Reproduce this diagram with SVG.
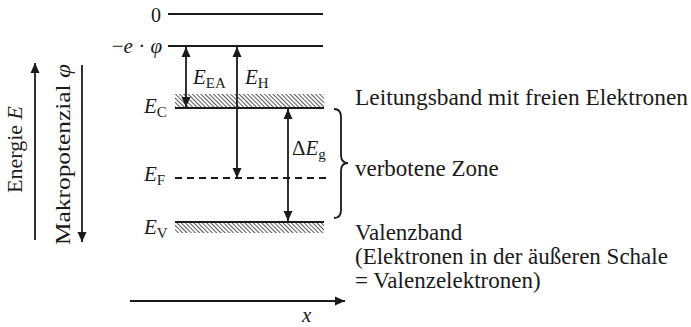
<svg xmlns="http://www.w3.org/2000/svg" width="691" height="327" viewBox="0 0 691 327">
<style>
text{font-family:"Liberation Serif","Times New Roman",serif;fill:#1a1a1a}
.lbl{font-size:23px}
.m{font-size:21px;font-style:italic}
.sub{font-size:15px;font-style:normal}
.ln{stroke:#1a1a1a;stroke-width:2;fill:none}
.ar{stroke:#1a1a1a;stroke-width:1.8;fill:none}
</style>
<defs>
<pattern id="hatch" width="3" height="3" patternUnits="userSpaceOnUse" patternTransform="rotate(-45)">
<rect width="3" height="3" fill="#fff"/>
<line x1="0" y1="0" x2="0" y2="3" stroke="#222" stroke-width="1.5"/>
</pattern>
<marker id="ah" viewBox="0 0 10 10" refX="10" refY="5" markerWidth="10" markerHeight="10" markerUnits="userSpaceOnUse" orient="auto-start-reverse">
<path d="M0,0.5 L10,5 L0,9.5 Z" fill="#1a1a1a"/>
</marker>
</defs>
<rect width="691" height="327" fill="#fff"/>

<g id="axes">
<line class="ar" x1="35" y1="240" x2="35" y2="63" marker-end="url(#ah)"/>
<line class="ar" x1="82" y1="65" x2="82" y2="242" marker-end="url(#ah)"/>
<line class="ar" x1="130" y1="301" x2="345" y2="301" marker-end="url(#ah)"/>
<text class="lbl" transform="translate(22,193) rotate(-90)" style="font-size:22px">Energie <tspan font-style="italic">E</tspan></text>
<text class="lbl" transform="translate(70,245) rotate(-90)" style="font-size:22px" textLength="181" lengthAdjust="spacingAndGlyphs">Makropotenzial <tspan font-style="italic">φ</tspan></text>
<text class="m" x="302" y="322">x</text>
</g>

<g id="level-0">
<line class="ln" x1="168" y1="14" x2="323" y2="14"/>
<text class="lbl" x="161" y="22" text-anchor="end" style="font-size:20px">0</text>
</g>

<g id="level-phi">
<line class="ln" x1="168" y1="46" x2="323" y2="46"/>
<text class="lbl" x="162" y="53" text-anchor="end" style="font-size:21px">−<tspan font-style="italic">e</tspan> · <tspan font-style="italic">φ</tspan></text>
</g>

<g id="level-EC">
<rect x="175" y="94" width="149" height="14" fill="url(#hatch)"/>
<line class="ln" x1="175" y1="108" x2="324" y2="108"/>
<text class="m" x="144" y="113">E<tspan class="sub" dy="4">C</tspan></text>
</g>

<g id="level-EF">
<line x1="175" y1="178" x2="328" y2="178" stroke="#1a1a1a" stroke-width="1.8" stroke-dasharray="7,5"/>
<text class="m" x="144" y="181">E<tspan class="sub" dy="4">F</tspan></text>
</g>

<g id="level-EV">
<rect x="175" y="222" width="149" height="11" fill="url(#hatch)"/>
<line class="ln" x1="175" y1="222" x2="324" y2="222"/>
<text class="m" x="144" y="234">E<tspan class="sub" dy="4">V</tspan></text>
</g>

<g id="connectors">
<line class="ar" x1="186" y1="47" x2="186" y2="107" marker-start="url(#ah)" marker-end="url(#ah)"/>
<line class="ar" x1="237" y1="47" x2="237" y2="178" marker-start="url(#ah)" marker-end="url(#ah)"/>
<line class="ar" x1="288" y1="109" x2="288" y2="221" marker-start="url(#ah)" marker-end="url(#ah)"/>
<path class="ar" d="M334,109 Q341,109 341,117 L341,155 Q341,163 348,163 Q341,163 341,171 L341,210 Q341,218 334,218"/>
</g>

<g id="labels-arrows">
<text class="m" x="193" y="84">E<tspan class="sub" dy="4">EA</tspan></text>
<text class="m" x="245" y="84">E<tspan class="sub" dy="4">H</tspan></text>
<text class="m" x="292" y="155"><tspan font-style="normal">Δ</tspan>E<tspan class="sub" dy="4">g</tspan></text>
</g>

<g id="labels-right">
<text class="lbl" x="355" y="105" textLength="333" lengthAdjust="spacingAndGlyphs">Leitungsband mit freien Elektronen</text>
<text class="lbl" x="355" y="176">verbotene Zone</text>
<text class="lbl" x="355" y="240">Valenzband</text>
<text class="lbl" x="355" y="264">(Elektronen in der äußeren Schale</text>
<text class="lbl" x="355" y="288">= Valenzelektronen)</text>
</g>
</svg>
